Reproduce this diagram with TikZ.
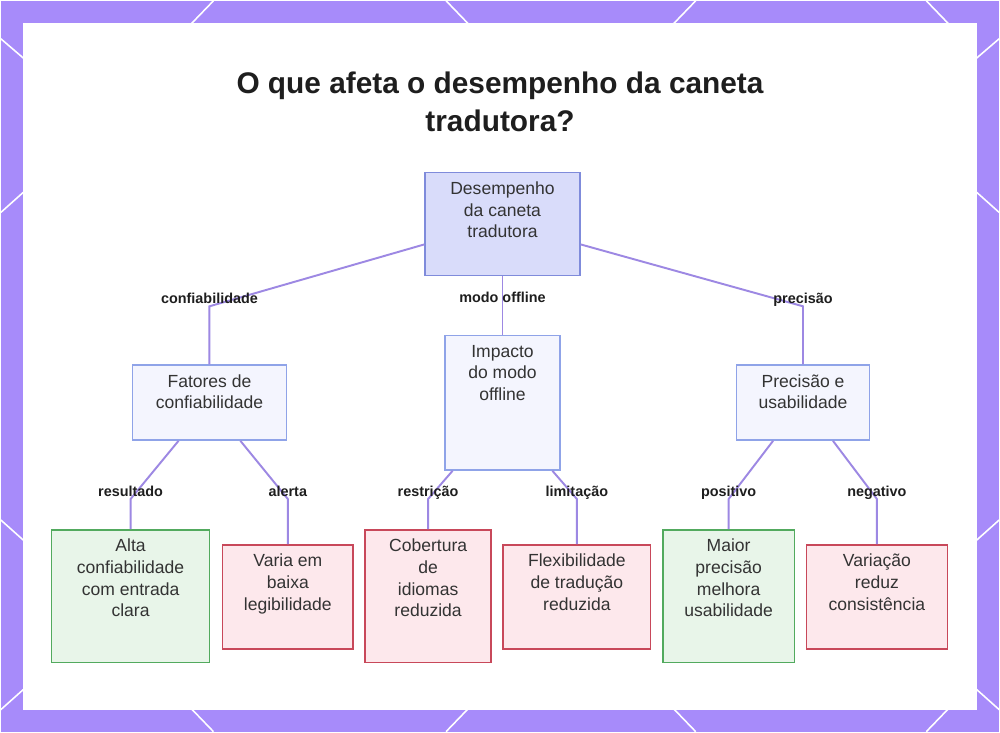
\documentclass[tikz,border=0pt]{standalone}
\usepackage{fontspec}
\setmainfont{Liberation Sans}
\usepackage{xcolor}
\usetikzlibrary{positioning}

\definecolor{framecol}{HTML}{A78BFA}
\definecolor{linkcol}{HTML}{9D88E3}
\definecolor{txtcol}{HTML}{333333}
\definecolor{titlecol}{HTML}{1E1E1E}
\definecolor{rootfill}{HTML}{D9DCFA}
\definecolor{rootdraw}{HTML}{7F8BDB}
\definecolor{midfill}{HTML}{F4F5FE}
\definecolor{middraw}{HTML}{8FA3E8}
\definecolor{goodfill}{HTML}{E8F5E9}
\definecolor{gooddraw}{HTML}{52AA5E}
\definecolor{badfill}{HTML}{FDE8EC}
\definecolor{baddraw}{HTML}{C8485A}

% text hanging from the top of a fixed size box
\newcommand{\boxtext}[3]{\parbox[c][#2][t]{#1}{\centering\rule{0pt}{12.5pt}#3}}

\tikzset{
  box/.style={draw, line width=0.85pt, inner sep=0pt, text=txtcol,
    font=\fontsize{10}{12.3}\selectfont},
  rootbox/.style={box, draw=rootdraw, fill=rootfill},
  midbox/.style={box, draw=middraw, fill=midfill},
  goodbox/.style={box, draw=gooddraw, fill=goodfill},
  badbox/.style={box, draw=baddraw, fill=badfill},
  link/.style={draw=linkcol, line width=1.1pt},
  lbl/.style={font=\bfseries\fontsize{8.2}{10}\selectfont, text=titlecol, inner sep=0pt},
  lblbend/.style={lbl, anchor=base, yshift=1.7pt},
  titletext/.style={font=\bfseries\fontsize{17}{21.5}\selectfont, text=titlecol, align=center},
}

\begin{document}
\begin{tikzpicture}[x=0.02cm, y=-0.02cm]

        % 1. Purple frame with white strokes, then the white panel
        \fill[framecol] (0,0) rectangle (1000,732);
        \foreach \xa/\ya/\xb/\yb in {213/0/186/28, 446/0/473/28, 696/0/669/28, 927/0/954/28,
                                     213/732/186/704, 446/732/473/704, 696/732/669/704, 927/732/954/704,
                                     0/38/28/62, 0/212/28/187, 0/520/28/545, 0/710/28/685,
                                     1000/38/972/62, 1000/212/972/187, 1000/520/972/545, 1000/710/972/685}
            \draw[white, line width=0.9pt] (\xa,\ya) -- (\xb,\yb);
        \fill[white] (22,22) rectangle (978,710);

        % 2. Title
        \node[titletext] (title) at (500,101) {O que afeta o desempenho da caneta\\tradutora?};

        % 3. Boxes (root, middle row, leaves)
        \node[rootbox] (root) at (502.5,223.5) {\boxtext{3.1cm}{2.06cm}{Desempenho\\da caneta\\tradutora}};

        \node[midbox] (fat)  at (209,402.5)   {\boxtext{3.08cm}{1.5cm}{Fatores de\\confiabilidade}};
        \node[midbox] (imp)  at (502.5,402.5) {\boxtext{2.3cm}{2.7cm}{Impacto\\do modo\\offline}};
        \node[midbox] (prec) at (803.5,402.5) {\boxtext{2.66cm}{1.5cm}{Precisão e\\usabilidade}};

        \node[goodbox] (alta)  at (130,596.5) {\boxtext{3.16cm}{2.66cm}{Alta\\confiabilidade\\com entrada\\clara}};
        \node[badbox]  (varia) at (287.5,597) {\boxtext{2.62cm}{2.08cm}{Varia em\\baixa\\legibilidade}};
        \node[badbox]  (cob)   at (428,596.5) {\boxtext{2.52cm}{2.66cm}{Cobertura\\de\\idiomas\\reduzida}};
        \node[badbox]  (flex)  at (577,597)   {\boxtext{2.96cm}{2.08cm}{Flexibilidade\\de tradução\\reduzida}};
        \node[goodbox] (maior) at (729,596.5) {\boxtext{2.64cm}{2.66cm}{Maior\\precisão\\melhora\\usabilidade}};
        \node[badbox]  (var)   at (877.5,597) {\boxtext{2.82cm}{2.08cm}{Variação\\reduz\\consistência}};

        % 4. Rows where the links bend
        \coordinate (rowA) at (0,306);
        \coordinate (rowB) at (0,499);

        % 5. Links from the root
        \draw[link] ([yshift=-0.41cm]root.west) -- (fat.north |- rowA)
                    node[lblbend] {confiabilidade} -- (fat.north);
        \draw[link] (root.south) -- node[lbl, pos=0.37] {modo offline} (imp.north);
        \draw[link] ([yshift=-0.41cm]root.east) -- (prec.north |- rowA)
                    node[lblbend] {precisão} -- (prec.north);

        % 6. Links to the leaves
        \draw[link] ([xshift=-0.62cm]fat.south) -- (alta.north |- rowB)
                    node[lblbend] {resultado} -- (alta.north);
        \draw[link] ([xshift=0.62cm]fat.south) -- (varia.north |- rowB)
                    node[lblbend] {alerta} -- (varia.north);
        \draw[link] ([xshift=-1.0cm]imp.south) -- (cob.north |- rowB)
                    node[lblbend] {restrição} -- (cob.north);
        \draw[link] ([xshift=1.0cm]imp.south) -- (flex.north |- rowB)
                    node[lblbend] {limitação} -- (flex.north);
        \draw[link] ([xshift=-0.6cm]prec.south) -- (maior.north |- rowB)
                    node[lblbend] {positivo} -- (maior.north);
        \draw[link] ([xshift=0.6cm]prec.south) -- (var.north |- rowB)
                    node[lblbend] {negativo} -- (var.north);

    \end{tikzpicture}
\end{document}
